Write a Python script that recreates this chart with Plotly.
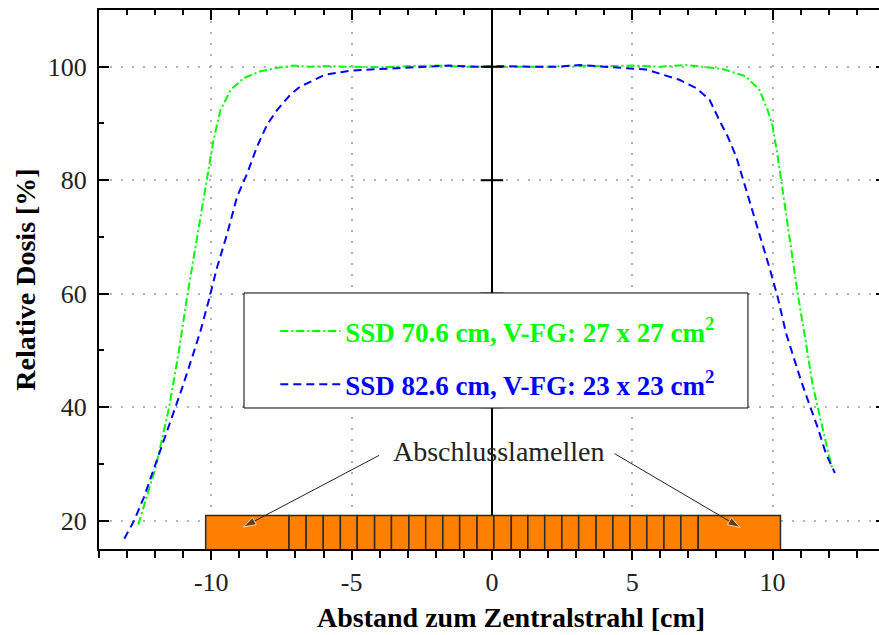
import plotly.graph_objects as go

# ---- data ----
green_x = [-12.6, -12.28, -11.98, -11.5, -11.15, -10.88, -10.56, -10.14, -9.92, -9.67,
           -9.31, -8.85, -8.25, -7.65, -7.07, -6.5, -6.0, -5.0, -4.0, -3.0,
           -2.0, -1.0, 0.0, 1.0, 2.0, 3.0, 4.0, 5.0, 6.0, 6.92,
           7.5, 8.22, 9.05, 9.53, 9.82, 10.0, 10.18, 10.3, 10.48, 10.65,
           10.89, 11.19, 11.42, 11.62, 11.84, 12.02, 12.13]
green_y = [19.3, 24.7, 29.4, 40.0, 50.0, 58.9, 68.3, 80.6, 87.1, 92.4,
           95.9, 98.0, 99.2, 99.8, 100.2, 100.0, 100.1, 100.0, 99.9, 100.1,
           100.2, 100.0, 100.0, 100.1, 100.0, 100.2, 100.1, 100.2, 100.0, 100.3,
           100.0, 99.6, 98.3, 95.9, 92.4, 89.5, 84.2, 80.0, 74.2, 68.3,
           60.1, 51.2, 44.1, 39.7, 34.7, 31.2, 29.1]

blue_x = [-13.1, -12.75, -12.4, -11.98, -11.68, -11.33, -11.03, -10.68, -10.38, -10.09,
          -9.79, -9.43, -9.08, -8.72, -8.37, -8.01, -7.65, -7.18, -6.83, -5.94,
          -5.05, -4.0, -3.27, -2.5, -1.5, -0.5, 0.5, 1.5, 2.3, 3.13,
          4.0, 4.9, 5.5, 6.09, 6.68, 7.28, 7.75, 8.1, 8.4, 8.7,
          8.99, 9.29, 9.59, 9.88, 10.18, 10.48, 10.71, 11.01, 11.3, 11.6,
          11.9, 12.22]
blue_y = [16.8, 20.0, 24.1, 30.0, 34.1, 39.4, 43.5, 48.8, 53.5, 58.8,
          64.7, 70.6, 77.1, 81.2, 85.9, 89.8, 92.4, 95.1, 96.5, 98.6,
          99.3, 99.6, 99.8, 100.0, 100.2, 100.0, 100.1, 100.0, 100.0, 100.3,
          100.0, 99.8, 99.5, 98.6, 97.7, 96.2, 94.2, 90.6, 87.7, 84.2,
          79.5, 74.2, 69.5, 64.7, 59.4, 53.0, 49.4, 44.7, 40.6, 36.5,
          31.8, 28.4]

green_name = "SSD 70.6 cm, V-FG: 27 x 27 cm"
blue_name = "SSD 82.6 cm, V-FG: 23 x 23 cm"

# multileaf collimator leaf edges [cm] and top of the leaf symbols
leaf_edges = [-10.2, -7.23, -6.62, -6.01, -5.40, -4.80, -4.18, -3.58, -2.96, -2.36,
              -1.75, -1.15, -0.53, 0.07, 0.69, 1.28, 1.88, 2.49, 3.09, 3.71,
              4.31, 4.92, 5.52, 6.13, 6.73, 7.35, 10.28]
leaf_top = 20.9

x_tickvals = [-10, -5, 0, 5, 10]
x_ticktext = ["-10", "-5", "0", "5", "10"]
y_tickvals = [20, 40, 60, 80, 100]
y_ticktext = ["20", "40", "60", "80", "100"]

x_title = "Abstand zum Zentralstrahl [cm]"
y_title = "Relative Dosis [%]"

annot_text = "Abschlusslamellen"
annot_pos = (0.25, 32.2)
arrow_tails = [(-4.02, 31.5), (4.37, 31.8)]
arrow_heads = [(-8.85, 18.9), (8.84, 18.8)]

X_RANGE = [-14, 13.79]
Y_RANGE = [15, 110]

FONT = "Liberation Serif"
GREEN = "#00FF00"
BLUE = "#0000FF"
ORANGE = "#FF8000"
INK = "#222222"

# ---- figure ----
fig = go.Figure()

centers = [(a + b) / 2 for a, b in zip(leaf_edges[:-1], leaf_edges[1:])]
widths = [b - a for a, b in zip(leaf_edges[:-1], leaf_edges[1:])]
fig.add_trace(go.Bar(
    x=centers, y=[leaf_top] * len(centers), width=widths,
    marker=dict(color=ORANGE, line=dict(color="#2b2b2b", width=1.5)),
    showlegend=False, hoverinfo="skip"))

fig.add_trace(go.Scatter(
    x=green_x, y=green_y, mode="lines",
    line=dict(color=GREEN, width=2, dash="8px,3px,2px,3px"),
    name=f"<b><span style='color:{GREEN}'>{green_name}<sup>2</sup></span></b>",
    legendgroup="g1"))
fig.add_trace(go.Scatter(
    x=blue_x, y=blue_y, mode="lines",
    line=dict(color=BLUE, width=2, dash="8px,5px"),
    name=f"<b><span style='color:{BLUE}'>{blue_name}<sup>2</sup></span></b>",
    legendgroup="g2"))

# arrows pointing from the label to the end leaves
for (tx, ty), (hx, hy) in zip(arrow_tails, arrow_heads):
    fig.add_trace(go.Scatter(
        x=[tx, hx], y=[ty, hy], mode="lines+markers",
        line=dict(color=INK, width=1),
        marker=dict(symbol="arrow", size=[0, 13], angleref="previous", color=INK),
        showlegend=False, hoverinfo="skip"))

# tick marks on the central (x = 0) axis, drawn on the overlay axes
fig.add_trace(go.Scatter(
    x=[0] * (len(y_tickvals) - 1), y=y_tickvals[1:], mode="markers",
    marker=dict(symbol="line-ew", size=16, line=dict(color="black", width=2)),
    xaxis="x2", yaxis="y2", showlegend=False, hoverinfo="skip"))

grid = dict(showgrid=True, gridcolor="#b4b4b4", griddash="2px,9px", gridwidth=1.5)
tickfont = dict(family=FONT, size=26, color=INK)

fig.update_layout(
    width=879, height=635,
    margin=dict(l=99, r=0, t=10, b=86),
    plot_bgcolor="white", paper_bgcolor="white",
    font=dict(family=FONT),
    barmode="overlay",
    xaxis=dict(
        range=X_RANGE, tickmode="array", tickvals=x_tickvals, ticktext=x_ticktext,
        ticks="outside", ticklen=9, tickwidth=2, tickcolor="black",
        minor=dict(tickmode="linear", tick0=0, dtick=1, ticks="outside", ticklen=7,
                   tickwidth=2, tickcolor="black", showgrid=False),
        showline=True, linecolor="black", linewidth=2,
        zeroline=True, zerolinecolor="black", zerolinewidth=1.5,
        tickfont=tickfont, automargin=False,
        **grid),
    xaxis2=dict(
        range=X_RANGE, overlaying="x", side="top", matches="x",
        tickmode="array", tickvals=x_tickvals, showticklabels=False,
        ticks="inside", ticklen=10, tickwidth=2, tickcolor="black",
        minor=dict(tickmode="linear", tick0=0, dtick=1, ticks="inside", ticklen=5,
                   tickwidth=2, tickcolor="black", showgrid=False),
        showline=True, linecolor="black", linewidth=2,
        showgrid=False, zeroline=False, automargin=False),
    yaxis=dict(
        range=Y_RANGE, tickmode="array", tickvals=y_tickvals, ticktext=y_ticktext,
        ticks="inside", ticklen=10, tickwidth=2, tickcolor="black",
        minor=dict(tickmode="linear", tick0=0, dtick=10, ticks="inside", ticklen=5,
                   tickwidth=2, tickcolor="black", showgrid=False),
        showline=True, linecolor="black", linewidth=2, zeroline=False,
        tickfont=tickfont, ticklabelstandoff=5, automargin=False,
        title=dict(text=f"<b>{y_title}</b>",
                   font=dict(family=FONT, size=28, color="black"), standoff=4),
        **grid),
    yaxis2=dict(
        range=Y_RANGE, overlaying="y", side="right", matches="y",
        tickmode="array", tickvals=y_tickvals, showticklabels=False,
        ticks="inside", ticklen=3, tickwidth=2, tickcolor="black",
        showline=False, showgrid=False, zeroline=False, automargin=False),
    legend=dict(
        x=0.226, y=0.449, xanchor="left", yanchor="top",
        bgcolor="rgba(0,0,0,0)", borderwidth=0,
        font=dict(family=FONT, size=27), itemwidth=60,
        tracegroupgap=15, traceorder="grouped"),
    shapes=[dict(type="rect", xref="paper", yref="paper",
                 x0=0.1859, x1=0.832, y0=0.2616, y1=0.475,
                 line=dict(color="black", width=1), fillcolor="white", layer="above")],
)

# x-axis title (slightly right of the plot centre, as in the reference)
fig.add_annotation(xref="paper", yref="paper", x=0.528, y=-0.1568,
                   xanchor="center", yanchor="bottom", showarrow=False,
                   borderpad=0, text=f"<b>{x_title}</b>",
                   font=dict(family=FONT, size=28, color="black"))

fig.add_annotation(x=annot_pos[0], y=annot_pos[1], text=annot_text, showarrow=False,
                   font=dict(family=FONT, size=28, color=INK))

fig.write_html("out.html")
